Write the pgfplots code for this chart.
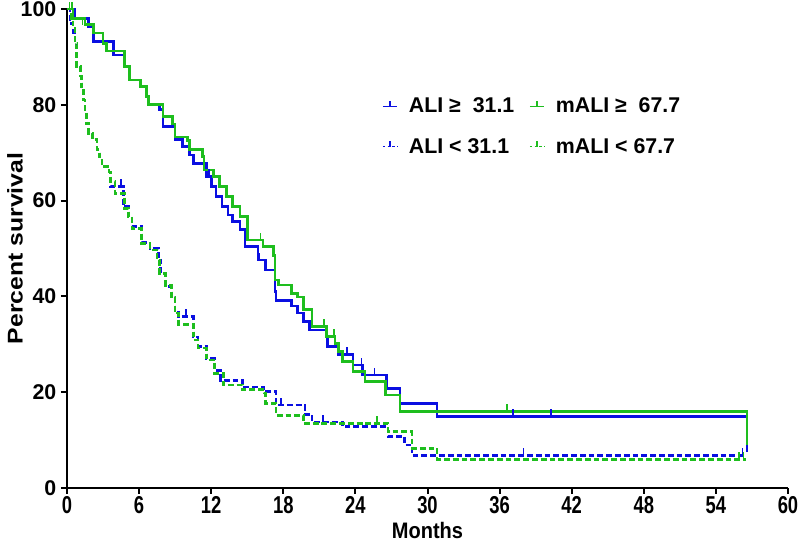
\documentclass[border=0pt]{standalone}
\usepackage{pgfplots}
\pgfplotsset{compat=1.18}
\usepackage{fontspec}
\setmainfont{Liberation Sans}
\definecolor{kmblue}{RGB}{10,15,225}
\definecolor{kmgreen}{RGB}{30,190,30}
\pgfdeclareplotmark{cens}{\pgfpathmoveto{\pgfpointorigin}\pgfpathlineto{\pgfpoint{0pt}{\pgfplotmarksize}}\pgfusepathqstroke}
\tikzset{dsh/.style={dash pattern=on 4.4pt off 2.2pt}}
\begin{document}
\begin{tikzpicture}
\begin{axis}[
  scale only axis, width=540.75pt, height=359.25pt,
  xmin=0, xmax=60, ymin=0, ymax=100,
  axis lines=left, axis line style={line width=1.5pt,-},
  xtick={0,6,...,60}, ytick={0,20,...,100},
  tick align=outside, major tick length=4.5pt, tick style={line width=1.5pt,black},
  yticklabel style={font=\fontsize{16}{18}\selectfont\bfseries},
  xticklabel style={font=\fontsize{15}{18}\selectfont\bfseries, inner ysep=2pt},
  xticklabel={\scalebox{0.92}[1.22]{\pgfmathprintnumber{\tick}}},
  /pgf/number format/assume math mode=true,
  xlabel={\scalebox{1}[1.12]{Months}}, ylabel={\scalebox{1.16}[1]{Percent survival}},
  xlabel style={at={(axis description cs:0.5,-0.089)}, anchor=center, inner sep=0pt, font=\fontsize{15}{18}\selectfont\bfseries},
  ylabel style={at={(axis description cs:-0.072,0.5)}, anchor=center, font=\fontsize{16}{18}\selectfont\bfseries},
  clip=false,
  legend columns=2,
  legend cell align=left,
  legend style={draw=none, fill=none, at={(axis description cs:0.431,0.826)}, anchor=north west,
    font=\fontsize{16}{19}\selectfont\bfseries,
    /tikz/every even column/.append style={column sep=9pt}, row sep=13.5pt},
  legend image code/.code={\draw[#1] (0pt,0pt) -- (11pt,0pt); \draw[#1,solid] (5.5pt,0pt) -- (5.5pt,4pt); \path (17pt,0pt);},
]
% blue solid: ALI >= 31.1
\addplot[const plot, kmblue, line width=2pt, forget plot] table {
0 100
0.6 98
1.8 96.3
2.2 93.2
3.85 90.4
4.8 88
5.2 85.2
6.1 83.8
6.6 81.7
6.8 80
7.7 79
8.0 75.4
9.0 72.7
9.6 71.3
10.2 69.5
10.5 67.8
11.6 65
12.0 62.9
12.4 60.8
12.9 58.7
13.4 57
13.8 55.6
14.4 53.9
14.8 50.4
15.9 47.6
16.5 45.5
17.3 41
17.4 39.2
18.7 38
19.2 36.5
19.7 34.7
20.2 33
21.6 31.6
21.7 29.5
22.6 27.8
23.8 25.7
24.6 23.6
26.6 20.8
27.7 17.7
30.8 14.9
56.6 7.5
};
% blue dashed: ALI < 31.1
\addplot[const plot, kmblue, line width=2pt, dsh, forget plot] table {
0 100
0.25 97
0.5 95
0.67 92.5
0.8 88
1.1 86
1.2 83.8
1.36 81
1.5 78.9
1.6 76.1
1.8 74
2.1 72.7
2.5 70.6
2.7 68.5
2.9 67.1
3.5 66
3.6 62.9
4.7 58.7
5.1 56.6
5.4 54.6
6.2 51.2
6.9 50
7.6 47.6
7.8 44.8
8.2 42
8.7 39.9
9.0 37
9.3 35.8
10.5 31.5
10.9 29.5
11.6 27
12.3 24.5
12.8 22.5
14.6 21.1
16.4 20.1
17.4 17.3
19.8 15.4
20.4 13.8
22.9 12.8
26.7 10.7
28.1 9.0
28.7 6.8
56.5 6.8
};
% green solid: mALI >= 67.7
\addplot[const plot, kmgreen, line width=2pt, forget plot] table {
0 100
0.5 98
1.5 96.7
2.2 95
3.0 92.8
3.3 91.2
4.8 88
5.2 85.2
6.1 83.8
6.6 81.7
6.8 80
8.0 77.5
8.8 76
9.0 73.3
10.0 72.6
10.2 70.6
11.3 69.2
11.4 66.4
12.2 65
12.7 63
13.3 60.8
13.8 58.7
14.4 56.7
15.0 51.8
16.3 50.4
17.2 48.6
17.3 43.4
17.6 42.4
18.7 40.6
19.2 39.9
19.7 37.2
20.4 33.7
21.6 31.6
22.3 30.2
22.6 28.5
22.9 26.4
23.8 24.3
24.8 22.2
26.5 19.4
27.7 16.0
56.6 9.0
};
% green dashed: mALI < 67.7
\addplot[const plot, kmgreen, line width=2pt, dsh, forget plot] table {
0 100
0.4 98
0.5 96.3
0.67 92.8
0.8 88
1.1 86
1.2 83.8
1.36 81
1.5 78.9
1.6 76.1
1.8 74
2.1 72.7
2.5 70.6
2.7 68.5
2.9 67.1
3.5 66
3.6 64
4.0 61.5
4.8 58.4
5.1 56.6
5.4 54.2
6.2 51
6.9 49.7
7.5 47.6
7.7 44.8
8.2 42.3
8.7 39.9
9.0 36.5
9.3 34.2
10.5 30.9
10.9 29.2
11.6 26.7
12.3 23.9
13.0 21.5
14.6 20.5
16.4 19.8
16.5 17.7
17.4 15.2
19.7 13.5
26.7 11.8
28.7 8.3
30.8 6.0
56.5 6.0
};
% censor marks
\addplot[only marks, mark=cens, mark size=5.5pt, kmblue, mark options={line width=1.2pt}, forget plot] table {
11.8 65
16.0 47.6
23.3 27.8
24.5 25.7
25.6 23.6
37.1 14.9
40.3 14.9
4.5 62.9
9.9 35.8
17.8 17.3
21.3 13.8
38.0 6.8
56.2 6.8
};
\addplot[only marks, mark=cens, mark size=5.5pt, kmgreen, mark options={line width=1.2pt}, forget plot] table {
0.4 100
1.3 96.7
11.35 69.2
15.1 51.8
16.1 51.8
21.4 33.7
22.2 31.6
36.6 16.0
0.2 100
25.8 13.5
55.9 6.0
56.3 6.0
};
\addlegendimage{kmblue, line width=1.2pt}
\addlegendentry{ALI ≥\ \ 31.1}
\addlegendimage{kmgreen, line width=1.2pt}
\addlegendentry{mALI ≥\ \ 67.7}
\addlegendimage{kmblue, line width=1.2pt, dash pattern=on 2pt off 1.6pt}
\addlegendentry{ALI < 31.1}
\addlegendimage{kmgreen, line width=1.2pt, dash pattern=on 2pt off 1.6pt}
\addlegendentry{mALI < 67.7}
\end{axis}
\pgfresetboundingbox
\path[use as bounding box] (-50.25pt,-42.75pt) rectangle (549.75pt,366pt);
\end{tikzpicture}
\end{document}
